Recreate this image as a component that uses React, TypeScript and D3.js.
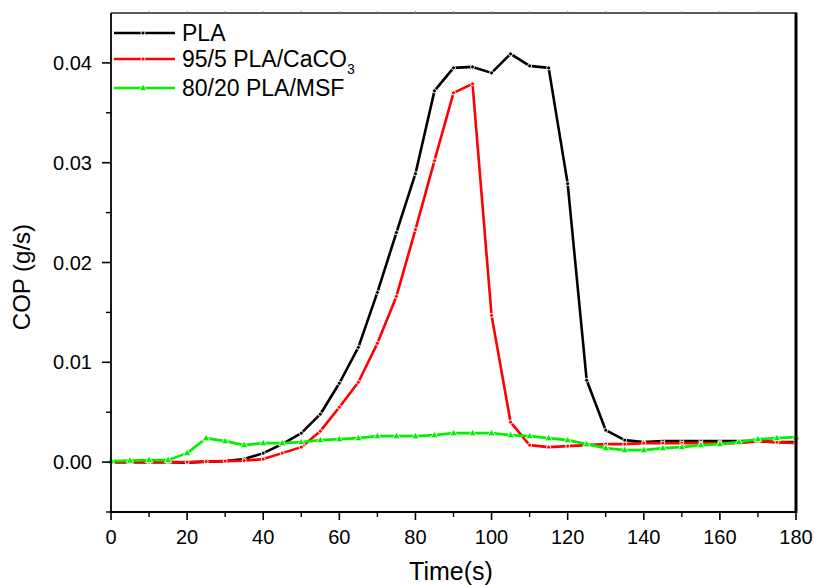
import React from "react";
import * as d3 from "d3";

const times = [0, 5, 10, 15, 20, 25, 30, 35, 40, 45, 50, 55, 60, 65, 70, 75, 80, 85, 90, 95, 100, 105, 110, 115, 120, 125, 130, 135, 140, 145, 150, 155, 160, 165, 170, 175, 180];

const pla = [0, 0, 0, 0, -0.00005, 0.00005, 0.0001, 0.0003, 0.0009, 0.0018, 0.0029, 0.0048, 0.0079, 0.0115, 0.0170, 0.0230, 0.0289, 0.0372, 0.0395, 0.0396, 0.0390, 0.0409, 0.0397, 0.0395, 0.0279, 0.0082, 0.0032, 0.0022, 0.0020, 0.0021, 0.0021, 0.0021, 0.0021, 0.0021, 0.0021, 0.0020, 0.0020];

const caco3 = [0, 0, 0, 0, 0, 0.00005, 0.0001, 0.00015, 0.0003, 0.0009, 0.0015, 0.0031, 0.0055, 0.0080, 0.0119, 0.0166, 0.0233, 0.0302, 0.0370, 0.0379, 0.0147, 0.0040, 0.0017, 0.0015, 0.0016, 0.0017, 0.0018, 0.0018, 0.0019, 0.0019, 0.0019, 0.0019, 0.0019, 0.0019, 0.0021, 0.0020, 0.0019];

const msf = [0.0001, 0.00015, 0.0002, 0.0002, 0.0009, 0.0024, 0.0021, 0.0017, 0.0019, 0.0019, 0.0020, 0.0022, 0.0023, 0.0024, 0.0026, 0.0026, 0.0026, 0.0027, 0.0029, 0.0029, 0.0029, 0.0027, 0.0026, 0.0024, 0.0022, 0.0018, 0.0014, 0.0012, 0.0012, 0.0014, 0.0015, 0.0017, 0.0018, 0.0020, 0.0023, 0.0024, 0.0025];

const xTicks = [0, 20, 40, 60, 80, 100, 120, 140, 160, 180];
const xMinor = [10, 30, 50, 70, 90, 110, 130, 150, 170];
const yTicks = [0.0, 0.01, 0.02, 0.03, 0.04];
const yMinor = [-0.005, 0.005, 0.015, 0.025, 0.035];
const yTickLabels = ["0.00", "0.01", "0.02", "0.03", "0.04"];

const seriesNames = ["PLA", "95/5 PLA/CaCO", "80/20 PLA/MSF"];
const seriesColors = ["#000000", "#ff0000", "#00f000"];

const L = 111, R = 796, T = 13, B = 512;
const FONT = "'Liberation Sans', Arial, sans-serif";

export default function App() {
  const x = d3.scaleLinear().domain([0, 180]).range([L, R]);
  const y = d3.scaleLinear().domain([-0.005, 0.045]).range([B, T]);
  const line = d3
    .line<[number, number]>()
    .x((d) => x(d[0]))
    .y((d) => y(d[1]));

  const series = [pla, caco3, msf].map((vals) => times.map((t, i) => [t, vals[i]] as [number, number]));

  const tri = (cx: number, cy: number, s: number) =>
    `M${cx},${cy - s} L${cx + s * 0.95},${cy + s * 0.65} L${cx - s * 0.95},${cy + s * 0.65} Z`;

  const marker = (si: number, cx: number, cy: number, key: string) => {
    if (si === 2) {
      return <path key={key} d={tri(cx, cy, 4)} fill={seriesColors[si]} stroke="#fff" strokeWidth={0.8} />;
    }
    return <circle key={key} cx={cx} cy={cy} r={2} fill={seriesColors[si]} stroke="#fff" strokeWidth={0.9} />;
  };

  const legendY = [33, 59, 88];

  return (
    <svg width={814} height={585} style={{ position: "absolute", left: 0, top: 0, background: "#fff" }} fontFamily={FONT}>
      <rect x={0} y={0} width={814} height={585} fill="#fff" />
      {series.map((s, si) => (
        <g key={si}>
          <path d={line(s) || ""} fill="none" stroke={seriesColors[si]} strokeWidth={2.6} strokeLinejoin="round" />
          {s.map((d, i) => marker(si, x(d[0]), y(d[1]), `m${si}-${i}`))}
        </g>
      ))}
      <line x1={L} y1={T} x2={R} y2={T} stroke="#222" strokeWidth={1.3} />
      <line x1={R} y1={T - 0.5} x2={R} y2={B + 1} stroke="#000" strokeWidth={3} />
      <line x1={L} y1={T} x2={L} y2={B + 1} stroke="#000" strokeWidth={1.8} />
      <line x1={L - 1} y1={B} x2={R} y2={B} stroke="#000" strokeWidth={2} />
      {[...xTicks, ...xMinor].filter((v) => v > 0 && v < 180).map((v) => (
        <line key={`tt${v}`} x1={x(v)} x2={x(v)} y1={T} y2={T - 2} stroke="#888" strokeWidth={1} />
      ))}
      {xTicks.map((v) => (
        <g key={`xt${v}`}>
          <line x1={x(v)} x2={x(v)} y1={B} y2={B + 8} stroke="#000" strokeWidth={1.6} />
          <text x={x(v)} y={544} textAnchor="middle" fontSize={20} fill="#000">
            {v}
          </text>
        </g>
      ))}
      {xMinor.map((v) => (
        <line key={`xm${v}`} x1={x(v)} x2={x(v)} y1={B} y2={B + 5} stroke="#000" strokeWidth={1.4} />
      ))}
      {yTicks.map((v, i) => (
        <g key={`yt${v}`}>
          <line x1={L - 9} x2={L} y1={y(v)} y2={y(v)} stroke="#000" strokeWidth={1.6} />
          <text x={92} y={y(v)} dy="0.35em" textAnchor="end" fontSize={20} fill="#000">
            {yTickLabels[i]}
          </text>
        </g>
      ))}
      {yMinor.map((v) => (
        <line key={`ym${v}`} x1={L - 5} x2={L} y1={y(v)} y2={y(v)} stroke="#000" strokeWidth={1.4} />
      ))}
      <text x={451} y={580} textAnchor="middle" fontSize={25} fill="#000">
        Time(s)
      </text>
      <text transform={`translate(30,277) rotate(-90)`} textAnchor="middle" fontSize={24} fill="#000">
        COP (g/s)
      </text>
      {seriesNames.map((name, i) => (
        <g key={`lg${i}`}>
          <line x1={114} x2={175} y1={legendY[i]} y2={legendY[i]} stroke={seriesColors[i]} strokeWidth={2.6} />
          {marker(i, 143, legendY[i], `lm${i}`)}
          <text x={182} y={legendY[i] + 8} fontSize={23} fill="#000">
            {name}
            {i === 1 ? (
              <tspan fontSize={14} dy={7}>
                3
              </tspan>
            ) : null}
          </text>
        </g>
      ))}
    </svg>
  );
}
